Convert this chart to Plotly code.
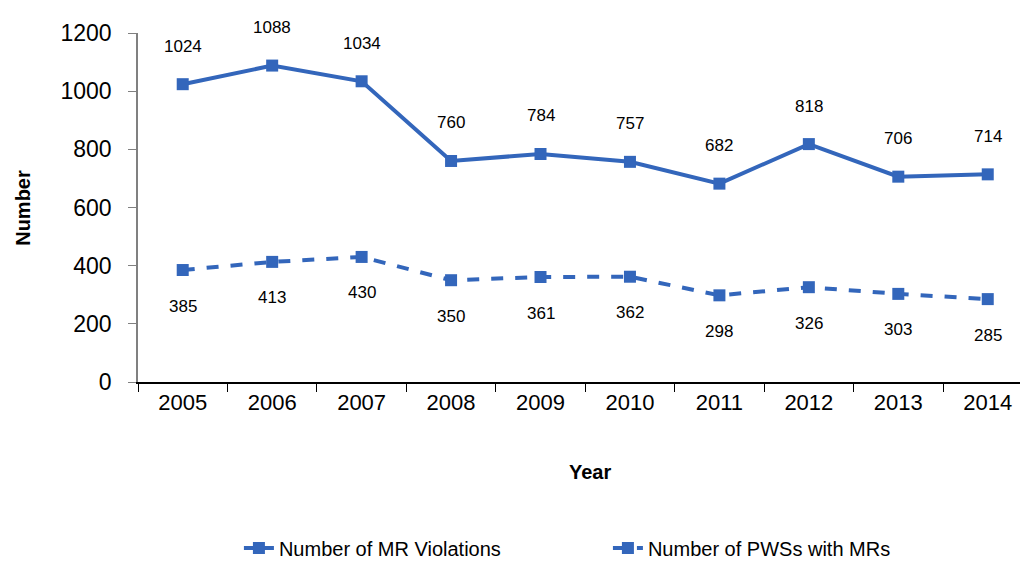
import plotly.graph_objects as go

years = ['2005', '2006', '2007', '2008', '2009', '2010', '2011', '2012', '2013', '2014']
mr_violations = [1024, 1088, 1034, 760, 784, 757, 682, 818, 706, 714]
pws_with_mrs = [385, 413, 430, 350, 361, 362, 298, 326, 303, 285]

blue = '#3366BB'
font_family = 'Liberation Sans Narrow, Arial Narrow, Liberation Sans, Arial, sans-serif'

fig = go.Figure()

# 실선: 위반 건수
fig.add_trace(go.Scatter(
    x=years, y=mr_violations,
    mode='lines+markers',
    name='Number of MR Violations',
    line=dict(color=blue, width=4),
    marker=dict(symbol='square', size=12, color=blue)
))

# 점선: PWS 수
fig.add_trace(go.Scatter(
    x=years, y=pws_with_mrs,
    mode='lines+markers',
    name='Number of PWSs with MRs',
    line=dict(color=blue, width=4, dash='dash'),
    marker=dict(symbol='square', size=12, color=blue)
))

# 데이터 라벨 (카테고리 인덱스로 위치 지정)
for i, y in enumerate(mr_violations):
    fig.add_annotation(x=i, y=y, text=str(y), showarrow=False, yshift=38,
                       font=dict(size=17, color='black'))
for i, y in enumerate(pws_with_mrs):
    fig.add_annotation(x=i, y=y, text=str(y), showarrow=False, yshift=-36,
                       font=dict(size=17, color='black'))

# 축 제목
fig.add_annotation(xref='paper', yref='paper', x=-0.130, y=0.5,
                   xanchor='center', yanchor='middle',
                   text='<b>Number</b>', textangle=-90, showarrow=False,
                   font=dict(size=20, color='black'))
fig.add_annotation(xref='paper', yref='paper', x=0.508, y=-0.258,
                   xanchor='center', yanchor='middle',
                   text='<b>Year</b>', showarrow=False,
                   font=dict(size=20, color='black'))

# 페이지 body 여백(8px)을 감안해 크기 조정
fig.update_layout(
    width=1020, height=553,
    margin=dict(l=130, r=0, t=25, b=179, autoexpand=False),
    plot_bgcolor='white',
    paper_bgcolor='white',
    font=dict(family=font_family, color='black'),
    showlegend=True,
    legend=dict(orientation='h', x=0.528, xanchor='center', y=-0.476, yanchor='middle',
                font=dict(size=20), entrywidth=324, entrywidthmode='pixels'),
    xaxis=dict(
        type='category',
        range=[-0.5, 9.45],
        showline=True, linecolor='black', linewidth=1.5,
        ticks='outside', tickson='boundaries', ticklen=8, tickcolor='black',
        tickfont=dict(size=22), showgrid=False, automargin=False
    ),
    yaxis=dict(
        range=[0, 1200], dtick=200,
        showline=True, linecolor='#808080', linewidth=1.5,
        ticks='outside', ticklen=8, tickcolor='#808080', ticklabelstandoff=12,
        tickfont=dict(size=23), showgrid=False, zeroline=False, automargin=False
    )
)

fig.write_html('out.html')
